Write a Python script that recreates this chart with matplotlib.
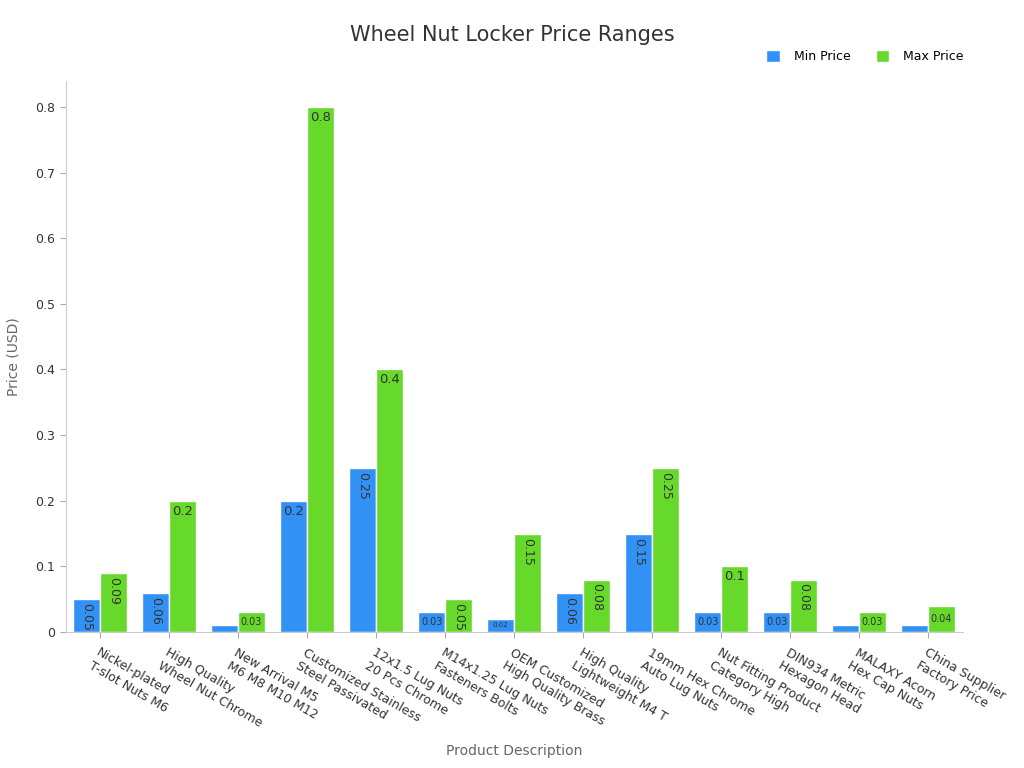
import numpy as np
import matplotlib
matplotlib.use("Agg")
import matplotlib.pyplot as plt

products = [
    "Nickel-plated\nT-slot Nuts M6",
    "High Quality\nWheel Nut Chrome",
    "New Arrival M5\nM6 M8 M10 M12",
    "Customized Stainless\nSteel Passivated",
    "12x1.5 Lug Nuts\n20 Pcs Chrome",
    "M14x1.25 Lug Nuts\nFasteners Bolts",
    "OEM Customized\nHigh Quality Brass",
    "High Quality\nLightweight M4 T",
    "19mm Hex Chrome\nAuto Lug Nuts",
    "Nut Fitting Product\nCategory High",
    "DIN934 Metric\nHexagon Head",
    "MALAXY Acorn\nHex Cap Nuts",
    "China Supplier\nFactory Price",
]
min_price = [0.05, 0.06, 0.01, 0.20, 0.25, 0.03, 0.02, 0.06, 0.15, 0.03, 0.03, 0.01, 0.01]
max_price = [0.09, 0.20, 0.03, 0.80, 0.40, 0.05, 0.15, 0.08, 0.25, 0.10, 0.08, 0.03, 0.04]

BLUE = "#3191f5"
GREEN = "#66d92b"
TXT = "#333333"

fig, ax = plt.subplots(figsize=(10.24, 7.68), dpi=100)
fig.subplots_adjust(left=0.064, right=0.94, top=0.895, bottom=0.177)

x = np.arange(len(products))
w = 0.39
b1 = ax.bar(x - w / 2, min_price, w, color=BLUE, edgecolor="white", linewidth=1, label="Min Price")
b2 = ax.bar(x + w / 2, max_price, w, color=GREEN, edgecolor="white", linewidth=1, label="Max Price")

ax.set_ylim(0, 0.84)
ax.set_xlim(-0.5, len(products) - 0.5)


def label_bars(bars, vals):
    for rect, v in zip(bars, vals):
        if v < 0.015:
            continue
        cx = rect.get_x() + rect.get_width() / 2
        top = rect.get_height()
        txt = f"{v:g}"
        if v <= 0.02:
            ax.text(cx, top / 2, txt, ha="center", va="center", fontsize=5, color=TXT)
        elif v <= 0.04:
            ax.text(cx, top / 2, txt, ha="center", va="center", fontsize=7, color=TXT)
        elif v in (0.1, 0.2, 0.4, 0.8):
            ax.text(cx, top - 0.006, txt, ha="center", va="top", fontsize=9.5, color=TXT)
        else:
            ax.text(cx, top - 0.006, txt, ha="center", va="top", fontsize=9,
                    color=TXT, rotation=-90)


label_bars(b1, min_price)
label_bars(b2, max_price)

ax.set_xticks(x)
ax.set_xticklabels(products, rotation=-30, ha="left", rotation_mode="anchor",
                   fontsize=9, color=TXT)
ax.tick_params(axis="x", length=4, color="#aaaaaa", pad=6)
ax.tick_params(axis="y", length=4, color="#aaaaaa", labelsize=9, labelcolor=TXT)
ax.set_yticks([0, 0.1, 0.2, 0.3, 0.4, 0.5, 0.6, 0.7, 0.8])
ax.set_yticklabels(["0", "0.1", "0.2", "0.3", "0.4", "0.5", "0.6", "0.7", "0.8"])

for s in ("top", "right"):
    ax.spines[s].set_visible(False)
for s in ("left", "bottom"):
    ax.spines[s].set_color("#cccccc")

ax.set_xlabel("Product Description", fontsize=10, color="#666666", va="center")
ax.xaxis.set_label_coords(0.5, -0.215)
ax.set_ylabel("Price (USD)", fontsize=10, color="#666666", va="center")
ax.yaxis.set_label_coords(-0.058, 0.5)
fig.suptitle("Wheel Nut Locker Price Ranges", fontsize=15, color=TXT, y=0.968)

fig.legend(loc="upper right", bbox_to_anchor=(0.952, 0.95), ncol=2, frameon=False,
           fontsize=9, handlelength=1.1, handleheight=1.1, columnspacing=2.0,
           handletextpad=1.1)

plt.savefig("out.png", dpi=100)
